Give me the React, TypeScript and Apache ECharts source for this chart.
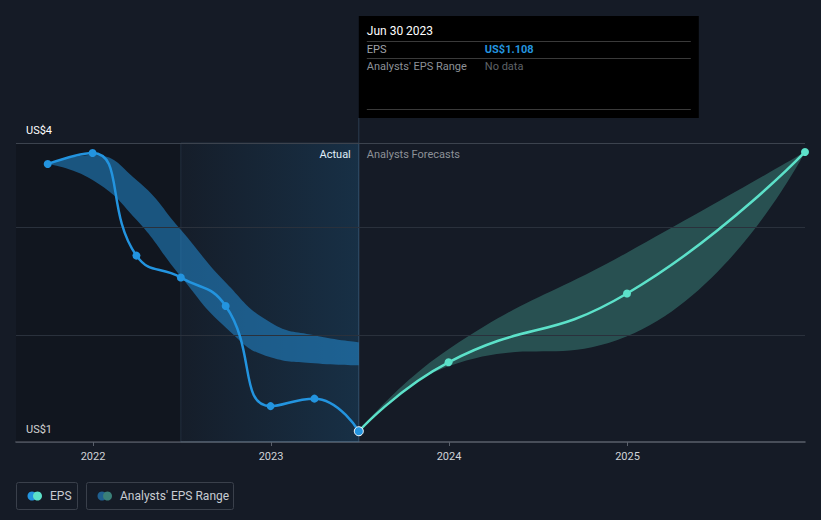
import React, { useEffect, useRef } from 'react';
import * as echarts from 'echarts';

// ---- data ----
const epsDates = ['2021-09-30', '2021-12-31', '2022-03-31', '2022-06-30', '2022-09-30', '2022-12-31', '2023-03-31', '2023-06-30'];
const epsValues = [3.79, 3.9, 2.87, 2.65, 2.365, 1.36, 1.435, 1.108];
const pastRangeLow = [3.79, 3.63, 3.23, 2.66, 2.15, 1.85, 1.79, 1.77];
const pastRangeHigh = [3.79, 3.88, 3.63, 3.13, 2.6, 2.2, 2.07, 2.0];
const forecastDates = ['2023-06-30', '2023-12-31', '2024-12-31', '2025-12-31'];
const forecastValues = [1.108, 1.8, 2.49, 3.91];
const forecastLow = [1.108, 1.76, 2.06, 3.91];
const forecastHigh = [1.108, 1.93, 2.9, 3.91];
const yearTicks = ['2022-01-01', '2023-01-01', '2024-01-01', '2025-01-01'];
const yLabels = [4, 1];
const gridLineValues = [2.0725, 3.145, 4];
const axisStart = '2021-07-27';
const axisEnd = '2025-12-31';
const actualStart = '2022-06-30';
const lastActual = '2023-06-30';

const t = (s: string) => Date.parse(s + 'T00:00:00Z');
const FONT = 'Roboto, "Noto Sans", sans-serif';

export default function App() {
  const ref = useRef<HTMLDivElement>(null);
  useEffect(() => {
    document.body.style.margin = '0';
    if (!ref.current) return;
    const chart = echarts.init(ref.current, null, { renderer: 'svg' });
    const BLUE = '#2394df';
    const MINT = '#5ce1c9';

    const pair = (d: string[], v: number[]) => d.map((x, i) => [t(x), v[i]]);
    // value first, date second (so that stacking applies to the value dimension)
    const vpair = (d: string[], v: number[]) => d.map((x, i) => [v[i], t(x)]);
    const vdiff = (d: string[], hi: number[], lo: number[]) => d.map((x, i) => [+(hi[i] - lo[i]).toFixed(4), t(x)]);
    const bandEncode = { x: 1, y: 0 };

    chart.setOption({
      animation: false,
      backgroundColor: '#151b26',
      textStyle: { fontFamily: FONT },
      grid: { left: 16, right: 16, top: 143, bottom: 78 },
      xAxis: {
        type: 'value',
        min: t(axisStart),
        max: t(axisEnd),
        splitLine: { show: false },
        axisLine: { lineStyle: { color: '#5a606b', width: 1.5 } },
        axisTick: { show: true, length: 4, lineStyle: { color: '#5a606b' }, customValues: yearTicks.map(t) },
        axisLabel: {
          color: '#d0d3d8',
          fontSize: 11,
          margin: 9,
          fontFamily: FONT,
          customValues: yearTicks.map(t),
          formatter: (v: number) => String(new Date(v).getUTCFullYear()),
        },
      },
      yAxis: { type: 'value', min: 1, max: 4, show: false, splitLine: { show: false } },
      series: [
        {
          type: 'line',
          name: 'pastLow',
          data: vpair(epsDates, pastRangeLow),
          encode: bandEncode,
          stack: 'past',
          smooth: 0.5,
          symbol: 'none',
          lineStyle: { opacity: 0 },
          silent: true,
          markArea: {
            silent: true,
            data: [
              [{ xAxis: t(axisStart), itemStyle: { color: 'rgba(0,0,0,0.18)' } }, { xAxis: t(actualStart) }],
              [
                {
                  xAxis: t(actualStart),
                  itemStyle: {
                    color: new echarts.graphic.LinearGradient(0, 0, 1, 0, [
                      { offset: 0, color: 'rgba(35,148,223,0.02)' },
                      { offset: 1, color: 'rgba(35,148,223,0.17)' },
                    ]),
                    borderColor: 'rgba(80,110,140,0.25)',
                    borderWidth: 1,
                  },
                },
                { xAxis: t(lastActual) },
              ],
            ],
          },
          markLine: {
            silent: true,
            symbol: 'none',
            label: { show: false },
            data: gridLineValues.map((v) => ({
              yAxis: v,
              lineStyle: { color: v === 4 ? '#3c434e' : '#2a313c', width: 1, type: 'solid' },
            })),
          },
        },
        {
          type: 'line',
          name: 'pastDiff',
          data: vdiff(epsDates, pastRangeHigh, pastRangeLow),
          encode: bandEncode,
          stack: 'past',
          smooth: 0.5,
          symbol: 'none',
          lineStyle: { opacity: 0 },
          areaStyle: { color: 'rgba(35,148,223,0.5)', opacity: 1 },
          silent: true,
        },
        {
          type: 'line',
          name: 'fcLow',
          data: vpair(forecastDates, forecastLow),
          encode: bandEncode,
          stack: 'fc',
          smooth: 0.5,
          symbol: 'none',
          lineStyle: { opacity: 0 },
          silent: true,
        },
        {
          type: 'line',
          name: 'fcDiff',
          data: vdiff(forecastDates, forecastHigh, forecastLow),
          encode: bandEncode,
          stack: 'fc',
          smooth: 0.5,
          symbol: 'none',
          lineStyle: { opacity: 0 },
          areaStyle: { color: 'rgba(92,225,201,0.27)', opacity: 1 },
          silent: true,
        },
        {
          type: 'line',
          name: 'Forecast',
          data: pair(forecastDates, forecastValues),
          smooth: 0.5,
          symbol: 'circle',
          symbolSize: 8,
          showAllSymbol: true,
          lineStyle: { color: MINT, width: 2.5 },
          itemStyle: { color: MINT },
          z: 5,
        },
        {
          type: 'line',
          name: 'EPS',
          data: pair(epsDates, epsValues).map((p, i, arr) =>
            i === arr.length - 1
              ? { value: p, itemStyle: { color: BLUE, borderColor: '#ffffff', borderWidth: 1 }, symbolSize: 9 }
              : { value: p }
          ),
          smooth: 0.5,
          symbol: 'circle',
          symbolSize: 8,
          showAllSymbol: true,
          lineStyle: { color: BLUE, width: 2.5 },
          itemStyle: { color: BLUE },
          z: 6,
        },
      ],
    });

    const px = (d: string, v: number) =>
      chart.convertToPixel({ xAxisIndex: 0, yAxisIndex: 0 }, [t(d), v]) as number[];
    const [vx, yTop] = px(lastActual, 4);
    const [, yBottom] = px(lastActual, 1);
    const [x0] = px(axisStart, 1);
    const gx = x0 + 10;
    const lastEps = epsValues[epsValues.length - 1];

    const textEl = (x: number, y: number, text: string, fill: string, opts: any = {}) => ({
      type: 'text',
      x,
      y,
      silent: true,
      style: {
        text,
        fill,
        fontSize: 11,
        fontFamily: FONT,
        verticalAlign: 'middle',
        ...opts,
      },
    });

    const graphic: any[] = [
      { type: 'line', silent: true, shape: { x1: vx, y1: 118, x2: vx, y2: yBottom }, style: { stroke: '#2c3d50', lineWidth: 1 } },
      { type: 'rect', silent: true, shape: { x: vx, y: 16, width: 340, height: 102 }, style: { fill: '#000000' } },
      textEl(vx + 8, 31, 'Jun 30 2023', '#ffffff', { fontSize: 12 }),
      { type: 'line', silent: true, shape: { x1: vx + 8, y1: 41.5, x2: vx + 332, y2: 41.5 }, style: { stroke: '#3a3a3a', lineWidth: 1 } },
      textEl(vx + 8, 49.5, 'EPS', '#a0a4aa'),
      textEl(vx + 126, 49.5, 'US$' + lastEps.toFixed(3), BLUE, { fontWeight: 'bold' }),
      { type: 'line', silent: true, shape: { x1: vx + 8, y1: 58.5, x2: vx + 332, y2: 58.5 }, style: { stroke: '#3a3a3a', lineWidth: 1 } },
      textEl(vx + 8, 66.5, "Analysts' EPS Range", '#8d9197'),
      textEl(vx + 126, 66.5, 'No data', '#5f6368'),
      { type: 'line', silent: true, shape: { x1: vx + 8, y1: 109.5, x2: vx + 332, y2: 109.5 }, style: { stroke: '#3a3a3a', lineWidth: 1 } },
      textEl(vx - 8, yTop + 11.5, 'Actual', '#ffffff', { align: 'right' }),
      textEl(vx + 8, yTop + 11.5, 'Analysts Forecasts', '#8d9197'),
      // legend
      { type: 'rect', silent: true, shape: { x: 16.5, y: 482.5, width: 61, height: 27, r: 2 }, style: { fill: 'none', stroke: '#3a404b', lineWidth: 1 } },
      { type: 'circle', silent: true, shape: { cx: 32, cy: 496, r: 4.5 }, style: { fill: BLUE } },
      { type: 'circle', silent: true, shape: { cx: 37.5, cy: 496, r: 4.5 }, style: { fill: MINT } },
      textEl(50, 496, 'EPS', '#c8ccd2', { fontSize: 12 }),
      { type: 'rect', silent: true, shape: { x: 86.5, y: 482.5, width: 147, height: 27, r: 2 }, style: { fill: 'none', stroke: '#3a404b', lineWidth: 1 } },
      { type: 'circle', silent: true, shape: { cx: 102, cy: 496, r: 4.5 }, style: { fill: '#1f5f8f' } },
      { type: 'circle', silent: true, shape: { cx: 107.5, cy: 496, r: 4.5 }, style: { fill: '#3a7f78' } },
      textEl(120, 496, "Analysts' EPS Range", '#c8ccd2', { fontSize: 12 }),
    ];
    yLabels.forEach((v) => {
      const [, y] = px(lastActual, v);
      graphic.push(textEl(gx, y - 12.5, 'US$' + v, '#ffffff', { fontSize: 11 }));
    });
    chart.setOption({ graphic });

    return () => chart.dispose();
  }, []);
  return <div ref={ref} style={{ width: 821, height: 520 }} />;
}
